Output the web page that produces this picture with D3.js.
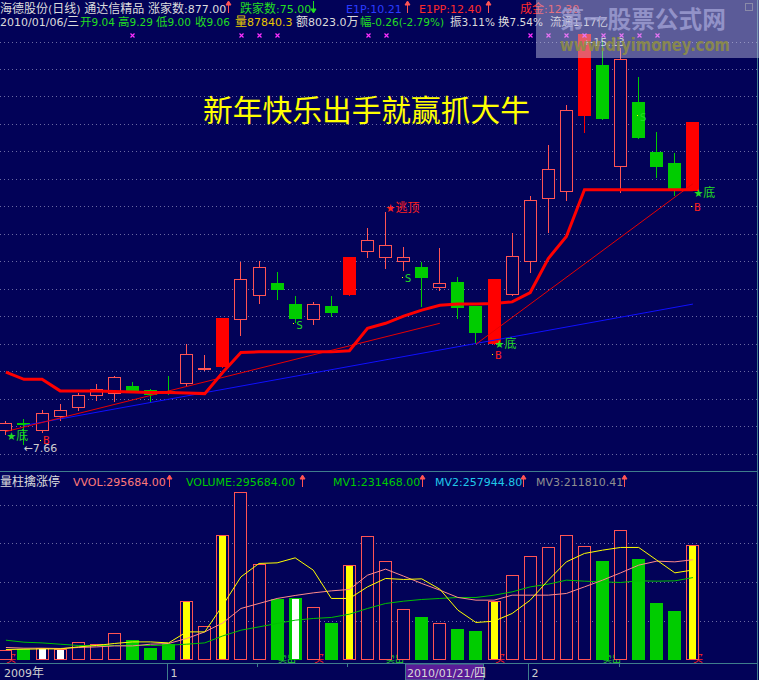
<!DOCTYPE html>
<html>
<head>
<meta charset="utf-8">
<script src="https://cdn.jsdelivr.net/npm/d3@7"></script>
<style>
  html, body { margin: 0; padding: 0; background: #020258; }
  svg { display: block; }
</style>
</head>
<body>
<svg id="chart" width="759" height="680"></svg>
<script>
// ---- daily bars: 海德股份 (日线), 2009-12-21 .. 2010-02-12 ----
const dates = [
  "2009-12-21","2009-12-22","2009-12-23","2009-12-24","2009-12-25","2009-12-28","2009-12-29","2009-12-30","2009-12-31",
  "2010-01-04","2010-01-05","2010-01-06","2010-01-07","2010-01-08","2010-01-11","2010-01-12","2010-01-13","2010-01-14","2010-01-15",
  "2010-01-18","2010-01-19","2010-01-20","2010-01-21","2010-01-22","2010-01-25","2010-01-26","2010-01-27","2010-01-28","2010-01-29",
  "2010-02-01","2010-02-02","2010-02-03","2010-02-04","2010-02-05","2010-02-08","2010-02-09","2010-02-10","2010-02-11","2010-02-12"
];
const opens  = [7.92,8.05,7.92,8.19,8.35,8.56,8.61,8.73,8.66,8.64,8.78,9.04,9.07,9.94,10.38,10.60,10.22,9.95,10.19,10.39,11.19,11.07,11.00,10.90,10.54,10.63,10.19,9.49,10.40,11.00,12.15,12.28,13.65,14.57,12.74,13.90,12.99,12.79,12.28];
const highs  = [8.09,8.12,8.30,8.40,8.60,8.77,8.91,8.80,8.67,8.91,9.49,9.29,9.97,10.99,11.00,10.80,10.37,10.26,10.37,11.07,11.61,11.90,11.26,10.99,11.24,10.72,10.19,10.67,11.51,12.19,13.12,13.84,15.13,15.03,14.88,14.36,13.36,12.97,13.53];
const lows   = [7.84,7.66,7.87,8.09,8.28,8.46,8.44,8.60,8.44,8.57,8.73,9.00,9.05,9.63,10.23,10.29,9.87,9.84,9.99,10.36,11.06,10.86,10.83,10.17,10.45,9.94,9.49,9.48,10.36,10.79,11.51,12.10,13.33,13.57,12.25,13.22,12.51,12.18,12.27];
const closes = [8.06,8.01,8.23,8.30,8.56,8.67,8.89,8.64,8.56,8.60,9.32,9.06,9.97,10.67,10.89,10.48,9.95,10.22,10.06,11.07,11.39,11.30,11.07,10.70,10.61,10.15,9.70,10.67,11.09,12.12,12.67,13.75,15.13,13.59,14.68,13.25,12.72,12.30,13.53];
const volumes = [24060,25870,28460,25870,43980,38800,67260,49150,29230,40360,150050,87840.3,321560,432030,245770,156000,158580,134520,93910,243180,318200,253530,129350,109430,93130,78390,73210,150820,217310,266460,289740,320790,292330,254300,333720,259480,145650,124950,295684];
// volume-bar highlight: Y = yellow core (涨停量柱), W = white core, "" = plain
const volFlags = ["","","W","W","","","","","","","Y","","Y","","","","W","","","Y","","","","","","","","Y","","","","","","","","","","","Y"];

// volume averages MV1 / MV2 / MV3
const mv1 = [25870,26650,27420,27420,32600,36220,41390,45530,45530,42940,71400,71400,140470,213690,248350,249900,262840,231020,157810,157810,187820,209550,206960,208510,181870,127540,95720,99080,119000,153410,205150,252490,274220,282760,289740,289740,256890,224030,231468.00];
const mv2 = [31040,29230,29230,28460,31040,32600,35180,35180,39580,41390,54330,71400,94680,131940,144870,157810,165570,172290,177470,181090,218000,233610,215500,196610,179280,160390,153410,153410,166340,166340,166340,170740,187820,205150,224030,243950,254300,252490,257944.80];
const mv3 = [49930,44760,42940,39580,36220,36220,36220,36220,36220,36990,39580,42940,61050,75800,84340,93130,101670,106070,108650,117190,131940,144870,150820,155220,157810,160390,160390,166340,174880,187820,194800,205150,202560,200750,199200,203340,202560,203340,211810.41];

// thick red support line, one value per day
const supportLine = [8.98,8.85,8.85,8.64,8.64,8.64,8.63,8.62,8.61,8.61,8.60,8.59,8.98,9.34,9.35,9.35,9.35,9.35,9.35,9.37,9.78,9.87,10.00,10.11,10.20,10.22,10.22,10.23,10.26,10.43,11.05,11.45,12.30,12.30,12.30,12.30,12.30,12.30,12.30];
// straight trend lines: [dayIndex, price] end points
const trendRed1 = [[0, 7.90], [24, 9.87]];
const trendRed2 = [[26, 9.49], [38, 12.41]];
const trendBlue = [[1, 8.01], [38, 10.22]];

// signal labels: [dayIndex, price]
const bottomMarks = [[0, 7.82], [27, 9.51], [38, 12.25]];   // ★底
const buyMarks    = [[2, 7.75], [27, 9.31], [38, 12.00]];   // B
const sellMarks   = [[16, 9.85], [22, 10.70], [35, 13.64]]; // S
const topMarks    = [[21, 11.97]];                          // ★逃顶
const crossMarks  = [7, 13, 14, 15, 20, 21, 29, 30, 31, 32, 33, 34, 35, 36];
// small tags sitting at the foot of the volume bars
const volBuyTags  = [0, 17, 27, 38];
const volSellTags = [15, 21, 33];

// header items
const hdrIndex = 11;
const marketStats = [["涨家数:", "877.00"], ["跌家数:", "75.00"], ["E1P:", "10.21"], ["E1PP:", "12.40"], ["成金:", "12.30"]];
const amountText = "额8023.0万";
const turnoverText = "换7.54%";
const floatText = "流通1.17亿";
const cursorIndex = 22;
const priceTicks = d3.range(7.5, 15.001, 0.5);
const volumeTicks = [100000, 200000, 300000, 400000];

// ---------------------------------------------------------------
const BG = "#020258", UP = "#ff5454", LIMIT = "#ff0000", DOWN = "#00cc00";
const GRID = "#6a6aa2", FRAME = "#3f7d8c";
const FONT = "'DejaVu Sans','Noto Sans CJK SC',sans-serif";
const svg = d3.select("#chart");

svg.append("rect").attr("width", 759).attr("height", 680).attr("fill", BG);

const x = d3.scaleBand().domain(dates).range([-3.14, 701.98]).paddingInner(0.28).paddingOuter(0.14);
const cx = i => x(dates[i]) + x.bandwidth() / 2;
const left = i => Math.round(cx(i) - 6.5);
const y = d3.scaleLinear().domain([7.5, 15]).range([453.5, 41.5]);
const vy = d3.scaleLinear().domain([0, 400000]).range([659.5, 504.8]);

// text helper: CJK runs are set one pixel larger, as the screen font does
function label(g, x0, y0, str, color, size = 11, anchor = "start") {
  const t = g.append("text").attr("x", x0).attr("y", y0).attr("fill", color)
    .attr("font-family", FONT).attr("font-size", size).attr("text-anchor", anchor);
  const runs = str.match(/[\u3000-\u9fff\uff00-\uffef]+|[^\u3000-\u9fff\uff00-\uffef]+/g) || [];
  runs.forEach(r => {
    const cjk = /[\u3000-\u9fff\uff00-\uffef]/.test(r);
    t.append("tspan").attr("font-size", cjk ? size + 1 : size).text(r);
  });
  return t;
}
function arrow(g, x0, y0, color, up = true) {
  const p = up
    ? `M${x0 + 0.5},${y0 + 12} V${y0 + 3} M${x0 - 2},${y0 + 4} L${x0 + 0.5},${y0} L${x0 + 3},${y0 + 4} Z`
    : `M${x0 + 0.5},${y0} V${y0 + 9} M${x0 - 2},${y0 + 8} L${x0 + 0.5},${y0 + 12} L${x0 + 3},${y0 + 8} Z`;
  g.append("path").attr("d", p).attr("stroke", color).attr("fill", color).attr("stroke-width", 1);
}
// hollow box drawn as an outer fill with the background punched inside
function hollow(g, x0, top, w, h, color) {
  g.append("rect").attr("x", x0).attr("y", top).attr("width", w).attr("height", Math.max(h, 1)).attr("fill", color);
  if (h > 2) g.append("rect").attr("x", x0 + 1).attr("y", top + 1).attr("width", w - 2).attr("height", h - 2).attr("fill", BG);
}

// ---- grids ----
const grid = svg.append("g").attr("stroke", GRID).attr("stroke-dasharray", "1,3");
grid.selectAll("line.p").data(priceTicks).join("line").attr("class", "p")
  .attr("x1", 0).attr("x2", 757).attr("y1", d => Math.round(y(d)) + 0.5).attr("y2", d => Math.round(y(d)) + 0.5);
grid.selectAll("line.v").data(volumeTicks).join("line").attr("class", "v")
  .attr("x1", 0).attr("x2", 757).attr("y1", d => Math.round(vy(d)) + 0.5).attr("y2", d => Math.round(vy(d)) + 0.5);

// ---- candles ----
const isLimit = i => i > 0 && closes[i] >= Math.round(closes[i - 1] * 110) / 100 - 0.001;
const kg = svg.append("g").attr("shape-rendering", "crispEdges");
dates.forEach((d, i) => {
  const o = opens[i], c = closes[i], h = highs[i], l = lows[i];
  const x0 = left(i), xw = x0 + 6;
  const top = Math.round(y(Math.max(o, c))), bot = Math.round(y(Math.min(o, c)));
  const yh = Math.round(y(h)), yl = Math.round(y(l));
  const col = isLimit(i) ? LIMIT : (c >= o ? UP : DOWN);
  kg.append("rect").attr("x", xw).attr("y", yh).attr("width", 1).attr("height", Math.max(yl - yh, 1)).attr("fill", col);
  if (c >= o && !isLimit(i)) hollow(kg, x0, top, 13, bot - top + 1, UP);
  else kg.append("rect").attr("x", x0).attr("y", top).attr("width", 13).attr("height", Math.max(bot - top, 1)).attr("fill", col);
});

// ---- overlay lines ----
const seg = pts => d3.line().x(p => cx(p[0])).y(p => y(p[1]))(pts);
svg.append("path").attr("d", seg(trendBlue)).attr("stroke", "#1010ff").attr("fill", "none");
svg.append("path").attr("d", seg(trendRed1)).attr("stroke", "#e80000").attr("fill", "none");
svg.append("path").attr("d", seg(trendRed2)).attr("stroke", "#e80000").attr("fill", "none");
svg.append("path").attr("d", d3.line().x((v, i) => cx(i)).y(v => y(v))(supportLine))
  .attr("stroke", "#ff0000").attr("stroke-width", 3).attr("fill", "none");

// ---- signal labels ----
const sg = svg.append("g");
bottomMarks.forEach(([i, p]) => {
  label(sg, cx(i) + 0.5, y(p) + 4.5, "★底", "#22dd22", 11);
});
buyMarks.forEach(([i, p]) => {
  sg.append("rect").attr("x", Math.round(cx(i)) - 2).attr("y", Math.round(y(p))).attr("width", 1).attr("height", 1).attr("fill", "#ffff00");
  sg.append("text").attr("x", cx(i) + 1).attr("y", y(p) + 4.5).attr("fill", "#ff2020")
    .attr("font-family", "'DejaVu Sans Mono',monospace").attr("font-size", 11).text("B");
});
sellMarks.forEach(([i, p]) => {
  sg.append("rect").attr("x", Math.round(cx(i)) - 2).attr("y", Math.round(y(p)) - 1).attr("width", 1).attr("height", 1).attr("fill", "#ffff00");
  sg.append("text").attr("x", cx(i) + 1).attr("y", y(p) + 4.5).attr("fill", "#22dd22")
    .attr("font-family", "'DejaVu Sans Mono',monospace").attr("font-size", 11).text("S");
});
topMarks.forEach(([i, p]) => {
  label(sg, cx(i), y(p) + 4.5, "★逃顶", "#ff2020", 11);
});
crossMarks.forEach(i => {
  const xm = Math.round(cx(i)) + 0.5, ym = 35.5;
  sg.append("path").attr("d", `M${xm - 2},${ym - 2} L${xm + 2},${ym + 2} M${xm + 2},${ym - 2} L${xm - 2},${ym + 2}`)
    .attr("stroke", "#ff30ff").attr("stroke-width", 1.2);
});

// highest / lowest price tags
const iMax = d3.maxIndex(highs), iMin = d3.minIndex(lows);
label(sg, cx(iMin) - 0.5, y(lows[iMin]) + 7, "←" + lows[iMin].toFixed(2), "#cfcfcf", 11);
label(sg, cx(iMax) - 0.5, y(highs[iMax]) + 12, "←" + highs[iMax].toFixed(2), "#cfcfcf", 11);

// slogan
svg.append("text").attr("x", 203).attr("y", 121).attr("fill", "#ffff00")
  .attr("font-family", "'Noto Sans CJK SC',sans-serif").attr("font-size", 30)
  .attr("textLength", 327).attr("lengthAdjust", "spacingAndGlyphs").text("新年快乐出手就赢抓大牛");

// ---- volume panel ----
const vg = svg.append("g").attr("shape-rendering", "crispEdges");
// foot tags first, so the bars sit over them
volBuyTags.forEach(i => {
  vg.append("text").attr("x", left(i) + 7).attr("y", 662).attr("fill", "#ff2020")
    .attr("font-family", "'Noto Sans CJK SC',sans-serif").attr("font-size", 10).text("买");
});
volSellTags.forEach(i => {
  vg.append("text").attr("x", left(i) + 7).attr("y", 662).attr("fill", "#22dd22")
    .attr("font-family", "'Noto Sans CJK SC',sans-serif").attr("font-size", 9).text("卖出");
});
dates.forEach((d, i) => {
  const x0 = left(i), top = Math.round(vy(volumes[i])), base = Math.round(vy(0));
  const up = closes[i] >= opens[i];
  if (up) hollow(vg, x0, top, 13, base - top, UP);
  else vg.append("rect").attr("x", x0).attr("y", top).attr("width", 13).attr("height", base - top).attr("fill", DOWN);
  if (volFlags[i]) {
    vg.append("rect").attr("x", x0 + 3).attr("y", top + 1).attr("width", 7).attr("height", base - top - 2)
      .attr("fill", volFlags[i] === "Y" ? "#ffff00" : "#ffffff");
  }
});
const vline = arr => d3.line().x((v, i) => cx(i)).y(v => vy(v))(arr);
svg.append("path").attr("d", vline(mv3)).attr("stroke", "#00c000").attr("fill", "none");
svg.append("path").attr("d", vline(mv2)).attr("stroke", "#ff8a8a").attr("fill", "none");
svg.append("path").attr("d", vline(mv1)).attr("stroke", "#ffff00").attr("fill", "none");

// ---- frame ----
const fg = svg.append("g").attr("stroke", FRAME).attr("shape-rendering", "crispEdges");
fg.append("line").attr("x1", 0).attr("x2", 757).attr("y1", 471.5).attr("y2", 471.5);
fg.append("line").attr("x1", 0).attr("x2", 757).attr("y1", 663.5).attr("y2", 663.5);
fg.append("line").attr("x1", 757.5).attr("x2", 757.5).attr("y1", 0).attr("y2", 680);

// ---- date axis: month labels, ticks every five sessions ----
const ag = svg.append("g");
label(ag, 4, 677, "2009年", "#cfcfcf", 11);
let monthStart = -1;
dates.forEach((d, i) => {
  if (i === 0) return;
  const m = d.slice(5, 7), pm = dates[i - 1].slice(5, 7);
  const xs = Math.round(cx(i)) - 1.5;
  if (m !== pm) {
    monthStart = i;
    ag.append("line").attr("x1", xs).attr("x2", xs).attr("y1", 663).attr("y2", 680).attr("stroke", FRAME);
    label(ag, xs + 3, 677, String(+m), "#cfcfcf", 11);
  } else if (monthStart >= 0 && (i - monthStart) % 5 === 0) {
    ag.append("line").attr("x1", xs).attr("x2", xs).attr("y1", 663).attr("y2", 667).attr("stroke", FRAME);
  }
});
{
  const d = dates[cursorIndex];
  const wk = "日一二三四五六"[new Date(d).getUTCDay()];
  ag.append("rect").attr("x", 405.5).attr("y", 664).attr("width", 78).attr("height", 16)
    .attr("fill", "#5a1c98").attr("stroke", FRAME);
  label(ag, 407, 677, d.replace(/-/g, "/") + "/" + wk, "#d8d8d8", 11);
}

// ---- header rows ----
const hg = svg.append("g");
const hd = dates[hdrIndex], hwk = "日一二三四五六"[new Date(hd).getUTCDay()];
const prevC = closes[hdrIndex - 1];
const chg = closes[hdrIndex] - prevC;
label(hg, 0, 12.5, "海德股份(日线) 通达信精品", "#dcdcdc");
label(hg, 148, 12.5, marketStats[0][0] + marketStats[0][1], "#dcdcdc"); arrow(hg, 228, 1, "#ff5454", true);
label(hg, 240, 12.5, marketStats[1][0] + marketStats[1][1], "#22dd22"); arrow(hg, 313, 1, "#22dd22", false);
label(hg, 346, 12.5, marketStats[2][0] + marketStats[2][1], "#2a3cff"); arrow(hg, 407, 1, "#ff5454", true);
label(hg, 419, 12.5, marketStats[3][0] + marketStats[3][1], "#ff2a2a"); arrow(hg, 488, 1, "#ff5454", true);
label(hg, 520, 12.5, marketStats[4][0] + marketStats[4][1], "#ff2a2a");

label(hg, 0, 26, hd.replace(/-/g, "/") + "/" + hwk, "#dcdcdc");
label(hg, 80, 26, "开" + opens[hdrIndex].toFixed(2), "#22dd22", 10.5);
label(hg, 118, 26, "高" + highs[hdrIndex].toFixed(2), "#22dd22", 10.5);
label(hg, 156, 26, "低" + lows[hdrIndex].toFixed(2), "#22dd22", 10.5);
label(hg, 195, 26, "收" + closes[hdrIndex].toFixed(2), "#22dd22", 10.5);
label(hg, 235, 26, "量" + volumes[hdrIndex].toFixed(1), "#e8c800");
label(hg, 296, 26, amountText, "#dcdcdc");
label(hg, 360, 26, "幅" + chg.toFixed(2) + "(" + (chg / prevC * 100).toFixed(2) + "%)", "#22dd22", 10.5);
label(hg, 450, 26, "振" + ((highs[hdrIndex] - lows[hdrIndex]) / prevC * 100).toFixed(2) + "%", "#dcdcdc", 10.5);
label(hg, 498, 26, turnoverText, "#dcdcdc", 10.5);
label(hg, 550, 26, floatText, "#dcdcdc", 10.5);

// volume panel header
const last = dates.length - 1;
label(hg, 0, 486, "量柱擒涨停", "#dcdcdc");
label(hg, 73, 486, "VVOL:" + volumes[last].toFixed(2), "#ff7a7a"); arrow(hg, 169, 475, "#ff5454", true);
label(hg, 186, 486, "VOLUME:" + volumes[last].toFixed(2), "#00cc00"); arrow(hg, 302, 475, "#ff5454", true);
label(hg, 333, 486, "MV1:" + mv1[last].toFixed(2), "#00cc00"); arrow(hg, 422, 475, "#ff5454", true);
label(hg, 435, 486, "MV2:" + mv2[last].toFixed(2), "#20c8e8"); arrow(hg, 523, 475, "#ff5454", true);
label(hg, 536, 486, "MV3:" + mv3[last].toFixed(2), "#909090"); arrow(hg, 624, 475, "#ff5454", true);

// ---- site banner, top right ----
const wm = svg.append("g");
wm.append("rect").attr("x", 536).attr("y", 0).attr("width", 223).attr("height", 58)
  .attr("fill", "#c8c8e6").attr("opacity", 0.45);
wm.append("text").attr("x", 560).attr("y", 28).attr("fill", "#a0a0d4").attr("opacity", 0.8)
  .attr("font-family", "'Noto Sans CJK SC',sans-serif").attr("font-size", 24).attr("font-weight", 700)
  .attr("textLength", 166).attr("lengthAdjust", "spacingAndGlyphs").text("第一股票公式网");
wm.append("text").attr("x", 560).attr("y", 51).attr("fill", "#8c8c48").attr("opacity", 0.9)
  .attr("font-family", "'DejaVu Sans',sans-serif").attr("font-size", 18).attr("font-weight", 700)
  .attr("textLength", 170).attr("lengthAdjust", "spacingAndGlyphs").text("www.diyimoney.com");
wm.append("rect").attr("x", 745.5).attr("y", 3.5).attr("width", 7).attr("height", 7)
  .attr("fill", "none").attr("stroke", "#8a8aa8");
</script>
</body>
</html>
